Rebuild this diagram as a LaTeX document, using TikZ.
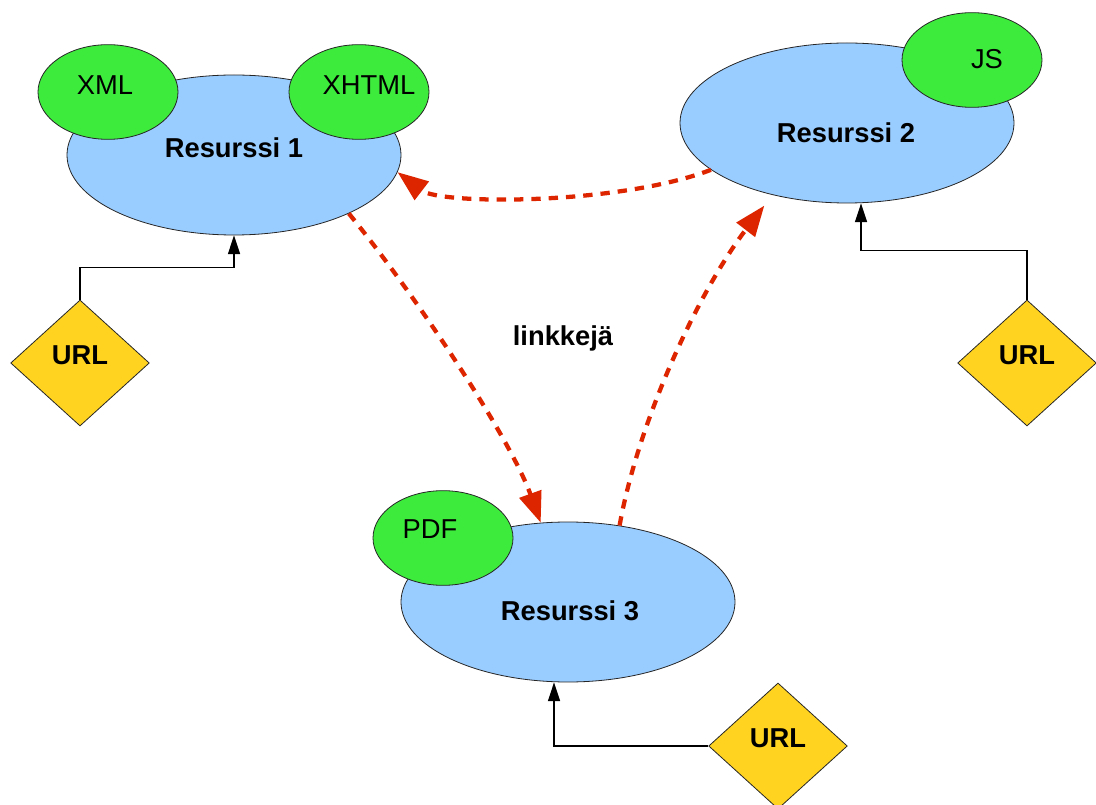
\documentclass[tikz,border=0pt]{standalone}
\usepackage{fontspec}
\setmainfont{Liberation Sans}
\usetikzlibrary{arrows.meta,shapes.geometric,calc}
\definecolor{resblue}{RGB}{153,204,255}
\definecolor{fmtgreen}{RGB}{61,235,61}
\definecolor{urlyellow}{RGB}{255,211,32}
\definecolor{linkred}{RGB}{221,38,0}
\begin{document}
\begin{tikzpicture}[x=0.75pt,y=-0.75pt,
  font=\fontsize{20.5}{24}\selectfont,
  outline/.style={draw=black!85, line width=0.6pt, inner sep=0pt},
  resource/.style={outline, ellipse, fill=resblue, minimum width=250.5pt, minimum height=120pt},
  format/.style={outline, ellipse, fill=fmtgreen, minimum width=105pt, minimum height=71pt},
  urlbox/.style={outline, diamond, fill=urlyellow, minimum width=104pt, minimum height=94.5pt},
  feed/.style={draw=black, line width=1pt, -{Triangle[length=14pt,width=9pt]}},
  link/.style={draw=linkred, line width=3.2pt, dash pattern=on 7pt off 6pt,
    -{Triangle[length=23pt,width=17pt]}}]

\useasboundingbox (0,0) rectangle (1096,805);

% resources
\node[resource, label={[shift={(0,-7)}]center:\bfseries Resurssi 1}] (r1) at (234,155) {};
\node[resource, label={[shift={(-1,10)}]center:\bfseries Resurssi 2}] (r2) at (847,123) {};
\node[resource, label={[shift={(2,9)}]center:\bfseries Resurssi 3}] (r3) at (568,602) {};

% formats
\node[format, label={[shift={(-3,-7)}]center:XML}] (xml) at (108,92) {};
\node[format, label={[shift={(10,-7)}]center:XHTML}] (xhtml) at (359,92) {};
\node[format, label={[shift={(15,-1)}]center:JS}] (js) at (972,60) {};
\node[format, label={[shift={(-13,-9)}]center:PDF}] (pdf) at (443,538) {};

% addresses
\node[urlbox, label={[shift={(0,-8)}]center:\bfseries URL}] (u1) at (80,363) {};
\node[urlbox, label={[shift={(0,-8)}]center:\bfseries URL}] (u2) at (1027,363) {};
\node[urlbox, label={[shift={(0,-8)}]center:\bfseries URL}] (u3) at (778,746) {};

\node[font=\fontsize{20.5}{24}\selectfont\bfseries] (lnk) at (563,338) {linkkejä};

% address connectors
\draw[feed] (u1.north) -- ++(0,-32) -| (r1.south);
\draw[feed] (u2.north) -- ++(0,-49) -| ($(r2.south)+(14,0)$);
\draw[feed] (u3.west) -| ($(r3.south)+(-14,0)$);

% links between resources
\draw[link] (r2.199) .. controls +(-92,35) and +(43,33) .. (r1.354);
\draw[link] (r1.333) .. controls +(71,87) and +(-30,-83) .. (r3.109.5);
\draw[link, shorten >=10pt] (r3.56) .. controls +(19,-106) and +(-73,95) .. (r2.224.3);
\end{tikzpicture}
\end{document}
